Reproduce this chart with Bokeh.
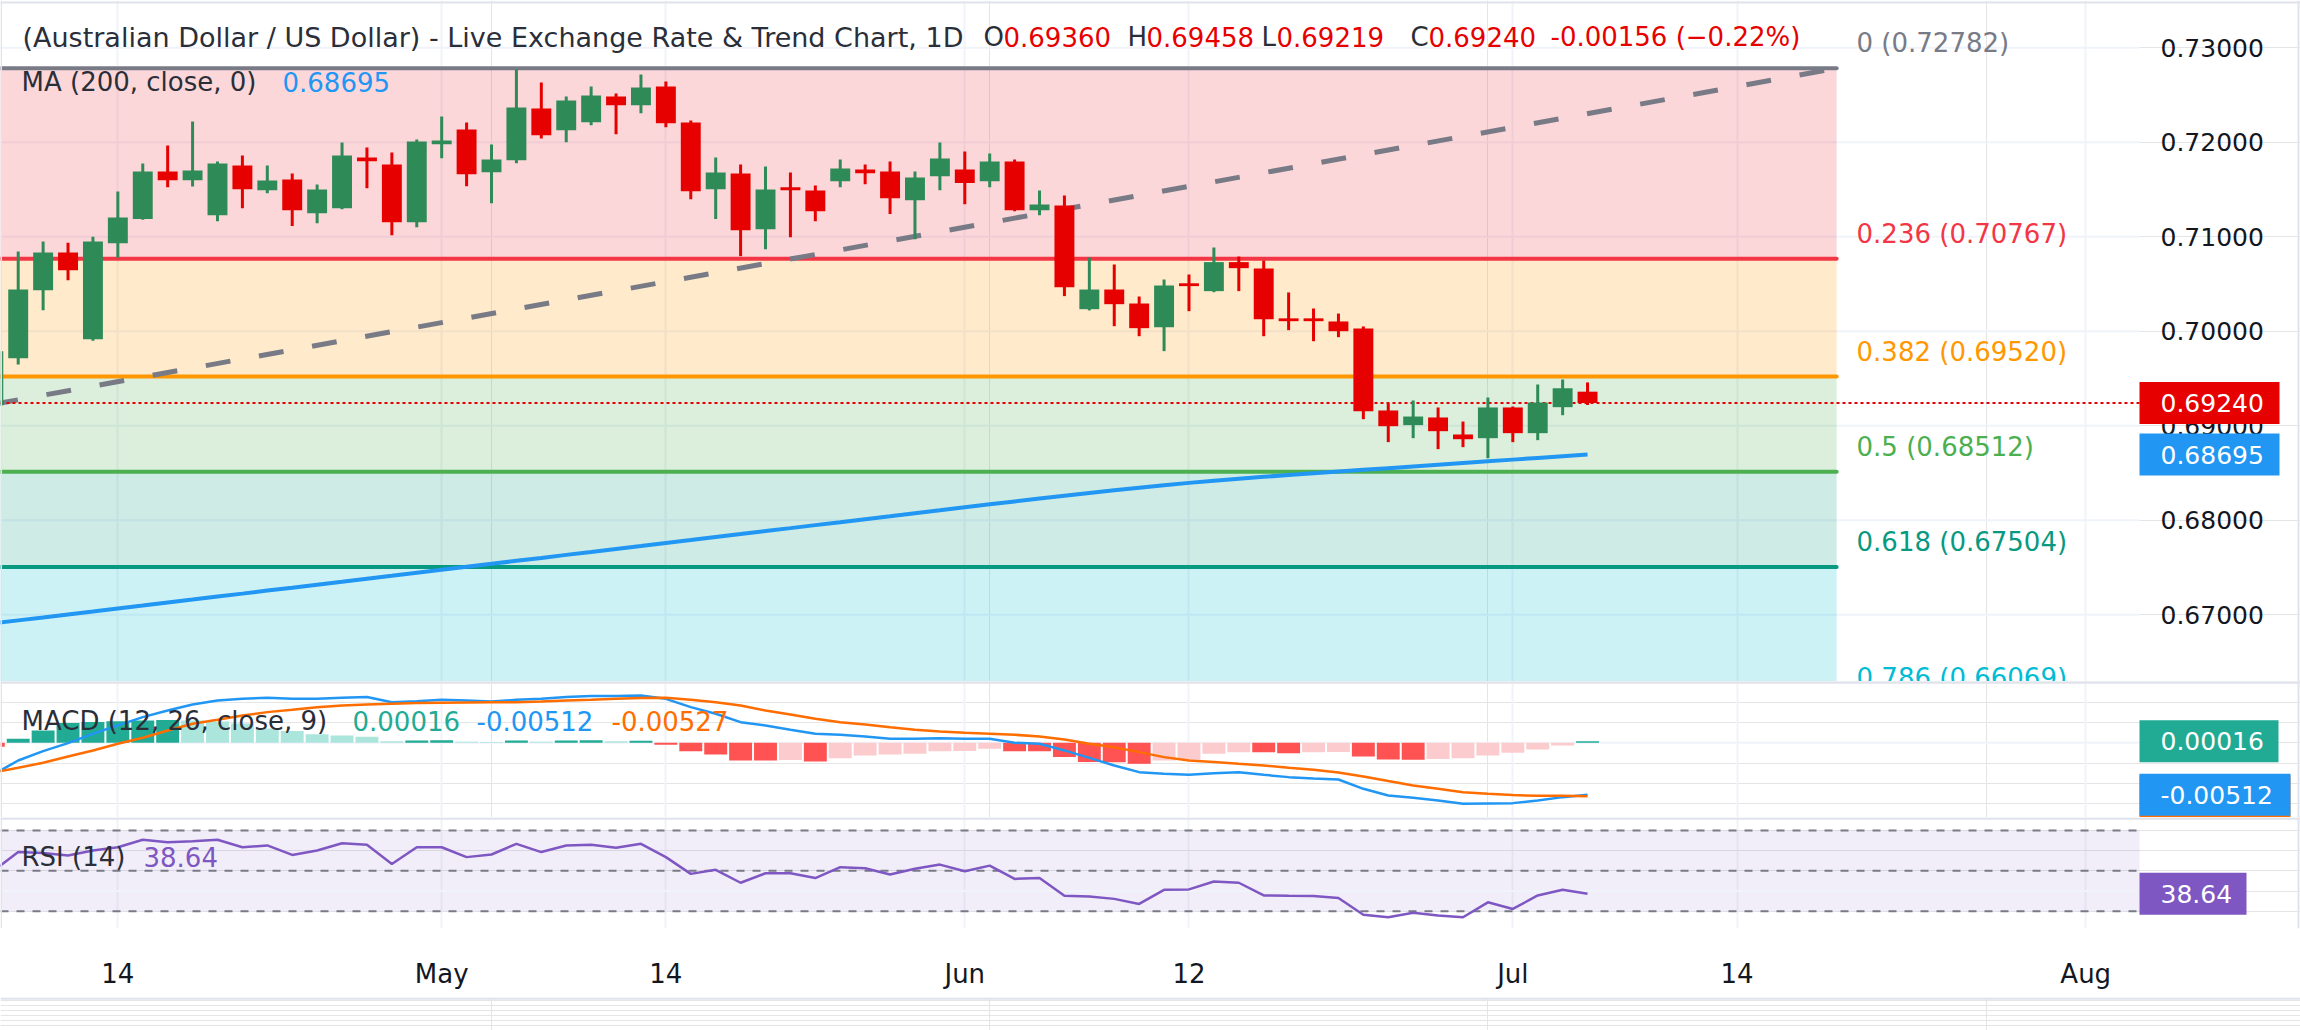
import pandas as pd
from bokeh.plotting import figure
from bokeh.layouts import column
from bokeh.models import Range1d, FixedTicker, Span, Grid
from bokeh.core.properties import value
from bokeh.embed import file_html
from bokeh.resources import INLINE

FONT = "DejaVu Sans"

# ---------------- data: AUD/USD daily, first bar 2026-04-07 ----------------
START = "2026-04-07"
OPEN = [0.69216, 0.69715, 0.70434, 0.70833, 0.69916, 0.70932, 0.71186, 0.71690, 0.71598, 0.71228,
        0.71754, 0.71492, 0.71605, 0.71249, 0.71302, 0.71838, 0.71764, 0.71154, 0.71979, 0.72134,
        0.71683, 0.71810, 0.72357, 0.72127, 0.72212, 0.72484, 0.72392, 0.72589, 0.72209, 0.71503,
        0.71669, 0.71080, 0.71514, 0.71489, 0.71588, 0.71711, 0.71690, 0.71387, 0.71641, 0.71711,
        0.71588, 0.71796, 0.71281, 0.71330, 0.70233, 0.70441, 0.70293, 0.70043, 0.70494, 0.70424,
        0.70731, 0.70663, 0.70134, 0.70127, 0.70103, 0.70029, 0.69161, 0.69006, 0.69087, 0.68907,
        0.68868, 0.69193, 0.68921, 0.69196, 0.69360]
HIGH = [0.69900, 0.70843, 0.70949, 0.70935, 0.70999, 0.71478, 0.71775, 0.71965, 0.72219, 0.71796,
        0.71859, 0.71754, 0.71669, 0.71552, 0.71997, 0.71944, 0.71891, 0.72029, 0.72272, 0.72209,
        0.71976, 0.72769, 0.72632, 0.72484, 0.72589, 0.72515, 0.72716, 0.72642, 0.72230, 0.71838,
        0.71764, 0.71743, 0.71679, 0.71542, 0.71817, 0.71764, 0.71796, 0.71690, 0.71997, 0.71902,
        0.71881, 0.71817, 0.71489, 0.71436, 0.70780, 0.70706, 0.70367, 0.70547, 0.70600, 0.70886,
        0.70790, 0.70748, 0.70410, 0.70240, 0.70187, 0.70050, 0.69235, 0.69267, 0.69193, 0.69044,
        0.69298, 0.69203, 0.69436, 0.69489, 0.69458]
LOW = [0.69120, 0.69648, 0.70223, 0.70540, 0.69900, 0.70776, 0.71180, 0.71524, 0.71531, 0.71164,
       0.71302, 0.71461, 0.71112, 0.71143, 0.71290, 0.71514, 0.71016, 0.71101, 0.71831, 0.71535,
       0.71355, 0.71778, 0.72039, 0.72000, 0.72180, 0.72085, 0.72307, 0.72159, 0.71397, 0.71186,
       0.70794, 0.70868, 0.70995, 0.71164, 0.71524, 0.71556, 0.71239, 0.70974, 0.71492, 0.71344,
       0.71524, 0.71270, 0.71228, 0.70371, 0.70220, 0.70053, 0.69947, 0.69789, 0.70212, 0.70413,
       0.70424, 0.69947, 0.70011, 0.69894, 0.69937, 0.69069, 0.68826, 0.68868, 0.68752, 0.68773,
       0.68656, 0.68826, 0.68847, 0.69111, 0.69219]
CLOSE = [0.69788, 0.70441, 0.70833, 0.70646, 0.70949, 0.71203, 0.71690, 0.71598, 0.71701, 0.71775,
         0.71503, 0.71595, 0.71281, 0.71500, 0.71859, 0.71799, 0.71154, 0.72007, 0.72018, 0.71662,
         0.71817, 0.72367, 0.72074, 0.72441, 0.72494, 0.72392, 0.72579, 0.72201, 0.71482, 0.71679,
         0.71069, 0.71500, 0.71492, 0.71270, 0.71722, 0.71672, 0.71408, 0.71627, 0.71828, 0.71567,
         0.71796, 0.71281, 0.71341, 0.70466, 0.70441, 0.70286, 0.70032, 0.70484, 0.70477, 0.70731,
         0.70667, 0.70127, 0.70106, 0.70106, 0.70000, 0.69154, 0.68995, 0.69097, 0.68942, 0.68857,
         0.69193, 0.68921, 0.69245, 0.69396, 0.69240]
MA200 = [0.66908, 0.66940, 0.66971, 0.67003, 0.67034, 0.67066, 0.67097, 0.67129, 0.67160, 0.67192,
         0.67223, 0.67255, 0.67286, 0.67318, 0.67349, 0.67381, 0.67412, 0.67444, 0.67475, 0.67507,
         0.67538, 0.67570, 0.67601, 0.67633, 0.67664, 0.67696, 0.67727, 0.67759, 0.67790, 0.67822,
         0.67853, 0.67885, 0.67916, 0.67948, 0.67979, 0.68011, 0.68042, 0.68074, 0.68105, 0.68137,
         0.68168, 0.68199, 0.68229, 0.68259, 0.68288, 0.68316, 0.68344, 0.68370, 0.68395, 0.68418,
         0.68439, 0.68459, 0.68478, 0.68497, 0.68515, 0.68533, 0.68551, 0.68569, 0.68587, 0.68605,
         0.68623, 0.68641, 0.68659, 0.68677, 0.68695]
MACD = [-0.00312, -0.00174, -0.00082, -0.00003, 0.00089, 0.00171, 0.00253, 0.00318, 0.00377, 0.00417,
        0.00433, 0.00443, 0.00433, 0.00433, 0.00443, 0.00450, 0.00400, 0.00410, 0.00423, 0.00417,
        0.00407, 0.00423, 0.00433, 0.00450, 0.00460, 0.00460, 0.00466, 0.00433, 0.00351, 0.00286,
        0.00203, 0.00171, 0.00128, 0.00089, 0.00079, 0.00062, 0.00039, 0.00039, 0.00046, 0.00039,
        0.00039, 0.00000, -0.00010, -0.00075, -0.00148, -0.00223, -0.00289, -0.00305, -0.00315, -0.00299,
        -0.00289, -0.00315, -0.00338, -0.00351, -0.00361, -0.00453, -0.00519, -0.00542, -0.00568, -0.00601,
        -0.00597, -0.00594, -0.00568, -0.00535, -0.00512]
SIGNAL = [-0.00294, -0.00246, -0.00197, -0.00135, -0.00075, -0.00010, 0.00049, 0.00121, 0.00187, 0.00226,
          0.00269, 0.00302, 0.00325, 0.00351, 0.00368, 0.00377, 0.00384, 0.00391, 0.00394, 0.00397,
          0.00400, 0.00400, 0.00407, 0.00417, 0.00423, 0.00433, 0.00440, 0.00443, 0.00423, 0.00400,
          0.00368, 0.00318, 0.00279, 0.00236, 0.00203, 0.00181, 0.00154, 0.00128, 0.00112, 0.00098,
          0.00089, 0.00079, 0.00062, 0.00033, -0.00010, -0.00043, -0.00092, -0.00141, -0.00174, -0.00190,
          -0.00207, -0.00223, -0.00246, -0.00266, -0.00292, -0.00331, -0.00377, -0.00420, -0.00453, -0.00486,
          -0.00502, -0.00515, -0.00522, -0.00522, -0.00527]
HIST = [-0.00040, 0.00039, 0.00121, 0.00194, 0.00204, 0.00213, 0.00220, 0.00225, 0.00220, 0.00210,
        0.00190, 0.00140, 0.00115, 0.00085, 0.00072, 0.00060, 0.00016, 0.00023, 0.00025, 0.00010,
        0.00008, 0.00023, 0.00010, 0.00023, 0.00026, 0.00016, 0.00020, -0.00020, -0.00082, -0.00115,
        -0.00174, -0.00175, -0.00170, -0.00184, -0.00151, -0.00125, -0.00115, -0.00108, -0.00082, -0.00080,
        -0.00059, -0.00082, -0.00084, -0.00141, -0.00190, -0.00192, -0.00207, -0.00174, -0.00164, -0.00108,
        -0.00092, -0.00094, -0.00102, -0.00092, -0.00090, -0.00135, -0.00164, -0.00166, -0.00160, -0.00151,
        -0.00125, -0.00098, -0.00066, -0.00026, 0.00016]
RSI = [49.9, 59.3, 58.8, 57.6, 60.1, 61.7, 65.4, 64.2, 64.7, 65.4,
       61.7, 62.6, 57.9, 60.1, 63.7, 62.9, 53.4, 61.7, 61.7, 56.8,
       58.1, 63.4, 59.3, 62.6, 62.9, 61.4, 63.4, 56.8, 48.5, 50.5,
       44.1, 48.8, 48.8, 46.4, 51.8, 51.3, 48.2, 51.0, 53.1, 49.8,
       52.6, 46.0, 46.5, 37.6, 37.3, 36.1, 33.6, 40.6, 40.8, 44.7,
       44.1, 37.8, 37.6, 37.5, 36.5, 28.2, 27.0, 29.2, 27.9, 27.0,
       34.4, 31.1, 37.8, 40.6, 38.64]

FIB_RATIOS = ["0", "0.236", "0.382", "0.5", "0.618", "0.786"]
FIB_PRICES = [0.72782, 0.70767, 0.69520, 0.68512, 0.67504, 0.66069]
FIB_COLORS = ["#787B86", "#F23645", "#FF9800", "#4CAF50", "#089981", "#00BCD4"]
FIB_END = "2026-07-20"

TREND_DATES = ["2026-04-07", "2026-07-20"]
TREND_PRICES = [0.69226, 0.72782]

PRICE_TICKS = [0.67, 0.68, 0.69, 0.70, 0.71, 0.72, 0.73]
DATE_TICKS = ["2026-04-14", "2026-05-01", "2026-05-14", "2026-06-01",
              "2026-06-12", "2026-07-01", "2026-07-14", "2026-08-03"]
DATE_LABELS = ["14", "May", "14", "Jun", "12", "Jul", "14", "Aug"]
RSI_LEVELS = [70, 50, 30]
RSI_GRID = [40]
MACD_GRID = [0]

# ---------------- trading-day calendar (weekdays) ----------------
cal = pd.bdate_range(START, "2026-09-30")
pos = {d.strftime("%Y-%m-%d"): i for i, d in enumerate(cal)}
n = len(CLOSE)
xs = list(range(n))
date_ticks = [pos[d] for d in DATE_TICKS]

# ---------------- geometry (pixels of the 2300 x 1030 page) ----------------
BAR_PX = 24.91
BAR0_PX = -7.2
PAGE_W = 2300
PLOT_R = 2139          # right end of the chart area; the price scale sits beyond it
GRID = "#F0F3FA"
EDGE = "#E0E3EB"
TXT = "#131722"
HEAD = "#2A2E39"
RED = "#E60000"
GREEN = "#2E8B57"


def bar_at(px):
    return (px - BAR0_PX) / BAR_PX


def price_at(py):
    return 0.72 - (py - 141.7) / 9450.0


def macd_at(py):
    return (742.3 - py) / 10156.0


def rsi_at(py):
    return 70 - (py - 830) / 2.017


xr = Range1d(bar_at(0), bar_at(PAGE_W))
X_LEFT, X_RIGHT = bar_at(0), bar_at(PLOT_R)


def pane(height, yr, bottom=0, xaxis=False, edges=True):
    p = figure(frame_width=PAGE_W, frame_height=height, x_range=xr, y_range=yr,
               output_backend="svg", toolbar_location=None,
               y_axis_location=None, x_axis_location="below" if xaxis else None,
               min_border_left=0, min_border_right=0, min_border_top=0,
               min_border_bottom=bottom,
               background_fill_color="white", border_fill_color="white",
               outline_line_color=None)
    if xaxis:
        p.xaxis.ticker = FixedTicker(ticks=date_ticks)
        p.xaxis.major_label_overrides = {t: l for t, l in zip(date_ticks, DATE_LABELS)}
        p.xaxis.axis_line_color = None
        p.xaxis.major_tick_line_color = None
        p.xaxis.minor_tick_line_color = None
        p.xaxis.major_label_text_font = FONT
        p.xaxis.major_label_text_font_size = "26px"
        p.xaxis.major_label_text_color = TXT
        p.xaxis.major_label_standoff = 24
        p.xgrid.grid_line_color = GRID
        p.xgrid.grid_line_width = 2
    elif edges:
        p.add_layout(Grid(dimension=0, ticker=FixedTicker(ticks=date_ticks),
                          grid_line_color=GRID, grid_line_width=2))
    if edges:
        # frame edges of the widget
        p.add_layout(Span(location=bar_at(0.8), dimension="height", line_color=EDGE, line_width=1.5))
        p.add_layout(Span(location=bar_at(PAGE_W - 2), dimension="height", line_color=EDGE, line_width=2))
    return p


def hgrid(p, levels):
    p.segment(x0=[X_LEFT] * len(levels), x1=[X_RIGHT] * len(levels), y0=levels, y1=levels,
              line_color=GRID, line_width=2)


def tag(p, y, text, bg, width):
    p.rect(x=[bar_at(PLOT_R + width / 2)], y=[y], width=width, height=42,
           width_units="screen", height_units="screen", fill_color=bg, line_color=None)
    p.text(x=[bar_at(PLOT_R + 21)], y=[y], text=[text], text_color="white",
           text_font=value(FONT), text_font_size="25px",
           text_align="left", text_baseline="middle")


def caption(p, pieces, y, size="26px"):
    for px, text, color in pieces:
        p.text(x=[bar_at(px)], y=[y], text=[text], text_color=color,
               text_font=value(FONT), text_font_size=size,
               text_align="left", text_baseline="middle")


# ---------------- price pane ----------------
main = pane(681, Range1d(price_at(681), price_at(0)))
main.add_layout(Span(location=price_at(2), dimension="width", line_color=EDGE, line_width=2))
hgrid(main, PRICE_TICKS)

fib_end = pos[FIB_END]
fib_start = -10
for k in range(1, len(FIB_PRICES)):
    main.quad(left=fib_start, right=fib_end, top=FIB_PRICES[k - 1], bottom=FIB_PRICES[k],
              fill_color=FIB_COLORS[k], fill_alpha=0.2, line_color=None)
for price, color in zip(FIB_PRICES, FIB_COLORS):
    main.line([fib_start, fib_end], [price, price], line_color=color, line_width=4, line_cap="round")
main.text(x=[fib_end + 0.8] * len(FIB_PRICES), y=FIB_PRICES,
          text=[f"{r} ({p:.5f})" for r, p in zip(FIB_RATIOS, FIB_PRICES)],
          text_color=FIB_COLORS, text_font=value(FONT), text_font_size="26px",
          text_align="left", text_baseline="middle", y_offset=-25)

main.line([pos[d] for d in TREND_DATES], TREND_PRICES, line_color="#787B86",
          line_width=5, line_dash="25 29")
main.line(xs, MA200, line_color="#2196F3", line_width=4)
main.segment(x0=[X_LEFT], x1=[X_RIGHT], y0=[CLOSE[-1]], y1=[CLOSE[-1]],
             line_color=RED, line_width=2, line_dash="3 3")

colors = [GREEN if c >= o else RED for o, c in zip(OPEN, CLOSE)]
main.segment(x0=xs, y0=LOW, x1=xs, y1=HIGH, line_color=colors, line_width=3)
tops = [max(o, c) for o, c in zip(OPEN, CLOSE)]
bots = [min(o, c) for o, c in zip(OPEN, CLOSE)]
tops = [t if t - b >= 0.0003 else b + 0.0003 for t, b in zip(tops, bots)]
main.vbar(x=xs, width=0.8, top=tops, bottom=bots, fill_color=colors, line_color=None)

chg = CLOSE[-1] - CLOSE[-2]
caption(main, [(22, "(Australian Dollar / US Dollar) - Live Exchange Rate & Trend Chart, 1D", HEAD)],
        price_at(36.7), size="27px")
caption(main, [
    (983, "O", HEAD), (1003, f"{OPEN[-1]:.5f}", RED),
    (1127, "H", HEAD), (1146, f"{HIGH[-1]:.5f}", RED),
    (1261, "L", HEAD), (1276, f"{LOW[-1]:.5f}", RED),
    (1410, "C", HEAD), (1428, f"{CLOSE[-1]:.5f}", RED),
    (1550, f"{chg:.5f} (\u2212{abs(chg) / CLOSE[-2] * 100:.2f}%)", RED),
], price_at(36.7))
caption(main, [
    (21, "MA (200, close, 0)", HEAD),
    (282, f"{MA200[-1]:.5f}", "#2196F3"),
], price_at(81.7))

# price scale
main.text(x=[bar_at(2160)] * len(PRICE_TICKS), y=PRICE_TICKS,
          text=[f"{t:.5f}" for t in PRICE_TICKS], text_color=TXT,
          text_font=value(FONT), text_font_size="25px",
          text_align="left", text_baseline="middle")
tag(main, CLOSE[-1], f"{CLOSE[-1]:.5f}", RED, 140)
tag(main, MA200[-1], f"{MA200[-1]:.5f}", "#2196F3", 140)

# ---------------- MACD pane ----------------
mp = pane(136, Range1d(macd_at(817), macd_at(681)))
mp.add_layout(Span(location=macd_at(682), dimension="width", line_color=EDGE, line_width=2.5))
hgrid(mp, MACD_GRID)


def hist_color(i):
    h = HIST[i]
    prev = HIST[i - 1] if i else h
    if h >= 0:
        return "#22AB94" if h >= prev else "#ACE5DC"
    return "#FF5252" if h <= prev else "#FCCBCD"


mp.vbar(x=xs, width=0.92, top=HIST, bottom=0, fill_color=[hist_color(i) for i in xs], line_color=None)
mp.line(xs, MACD, line_color="#2196F3", line_width=2.5)
mp.line(xs, SIGNAL, line_color="#FF6D00", line_width=2.5)
caption(mp, [
    (21, "MACD (12, 26, close, 9)", HEAD),
    (352, f"{HIST[-1]:.5f}", "#22AB94"),
    (476, f"{MACD[-1]:.5f}", "#2196F3"),
    (611, f"{SIGNAL[-1]:.5f}", "#FF6D00"),
], macd_at(720))
tag(mp, SIGNAL[-1], f"{SIGNAL[-1]:.5f}", "#FF6D00", 151)
tag(mp, MACD[-1], f"{MACD[-1]:.5f}", "#2196F3", 151)
tag(mp, HIST[-1], f"{HIST[-1]:.5f}", "#22AB94", 139)

# ---------------- RSI pane ----------------
rp = pane(111, Range1d(rsi_at(928), rsi_at(817)), bottom=69, xaxis=True)
rp.add_layout(Span(location=rsi_at(818), dimension="width", line_color=EDGE, line_width=2.5))
rp.quad(left=[X_LEFT], right=[X_RIGHT], bottom=[RSI_LEVELS[-1]], top=[RSI_LEVELS[0]],
        fill_color="#7E57C2", fill_alpha=0.1, line_color=None)
hgrid(rp, RSI_GRID)
rp.segment(x0=[X_LEFT] * 3, x1=[X_RIGHT] * 3, y0=RSI_LEVELS, y1=RSI_LEVELS,
           line_color="#787B86", line_width=2, line_dash="8 8")
rp.line(xs, RSI, line_color="#7E57C2", line_width=2.5)
caption(rp, [
    (21, "RSI (14)", HEAD),
    (143, f"{RSI[-1]:.2f}", "#7E57C2"),
], rsi_at(856.7))
tag(rp, RSI[-1], f"{RSI[-1]:.2f}", "#7E57C2", 107)

# ---------------- strip under the time scale ----------------
foot = pane(33, Range1d(0, 33), edges=False)
foot.add_layout(Span(location=32, dimension="width", line_color=EDGE, line_width=2.5))

layout = column(main, mp, rp, foot, spacing=0)
open("out.html", "w").write(file_html(layout, INLINE))
